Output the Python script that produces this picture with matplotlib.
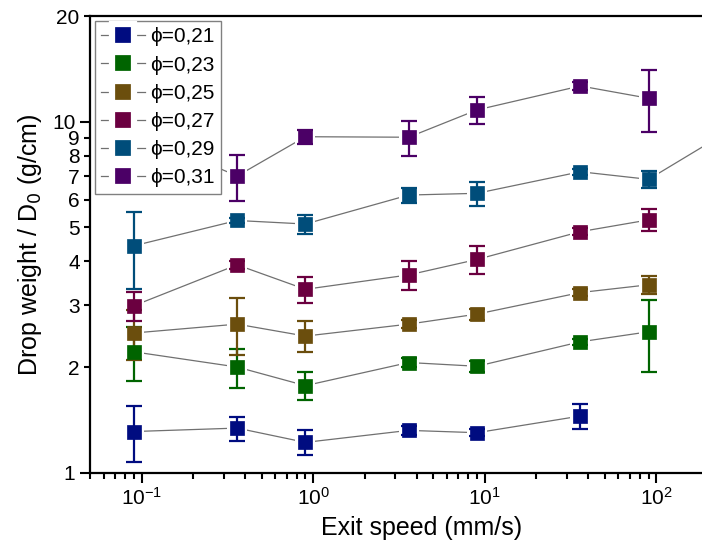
import numpy as np
import matplotlib
matplotlib.use("Agg")
import matplotlib.pyplot as plt
from matplotlib.lines import Line2D
from matplotlib.ticker import FixedLocator, FixedFormatter

plt.rcParams['font.family'] = ['Liberation Sans', 'DejaVu Sans']

# exit speed (mm/s)
speed = [0.09, 0.36, 0.9, 3.6, 9, 36, 90, 360]

labels = ["ϕ=0,21", "ϕ=0,23", "ϕ=0,25", "ϕ=0,27", "ϕ=0,29", "ϕ=0,31"]
colors = ["#000c80", "#006400", "#6b4e0d", "#6b0040", "#004d7a", "#4b0066"]

nan = np.nan
w021 = [1.31, 1.34, 1.22, 1.32, 1.30, 1.45, nan, nan]
e021 = [0.24, 0.105, 0.10, 0.04, 0.03, 0.117, nan, nan]
w023 = [2.21, 2.00, 1.77, 2.06, 2.01, 2.36, 2.52, nan]
e023 = [0.39, 0.255, 0.16, 0.06, 0.07, 0.05, 0.58, nan]
w025 = [2.50, 2.65, 2.45, 2.65, 2.83, 3.26, 3.43, nan]
e025 = [0.41, 0.49, 0.25, 0.07, 0.10, 0.08, 0.20, nan]
w027 = [2.99, 3.91, 3.33, 3.66, 4.05, 4.86, 5.25, nan]
e027 = [0.29, 0.10, 0.29, 0.34, 0.37, 0.12, 0.38, nan]
w029 = [4.43, 5.23, 5.11, 6.18, 6.25, 7.20, 6.85, 10.3]
e029 = [1.10, 0.10, 0.32, 0.30, 0.50, 0.15, 0.37, 0.50]
w031 = [9.38, 7.00, 9.06, 9.03, 10.8, 12.64, 11.66, nan]
e031 = [0.40, 1.06, 0.43, 1.04, 0.98, 0.30, 2.33, nan]

weights = [w021, w023, w025, w027, w029, w031]
errors = [e021, e023, e025, e027, e029, e031]

fig = plt.figure(figsize=(7.02, 5.5), dpi=100)
# the axes run past the right edge of the picture, as in the cropped original
ax = fig.add_axes([90 / 702, 77.3 / 550, 738 / 702, 456.7 / 550])

for y, e, c in zip(weights, errors, colors):
    # connecting line with a white halo round each marker
    ax.plot(speed, y, '-', color='#707070', lw=0.9, marker='s', ms=15,
            mfc='white', mec='white', mew=0, zorder=2)
    ax.errorbar(speed, y, yerr=e, fmt='none', ecolor=c, elinewidth=1.6,
                capsize=5.5, capthick=1.6, zorder=3)
    ax.plot(speed, y, 's', color=c, ms=10, mec=c, mew=0.5, zorder=4)

ax.set_xscale('log')
ax.set_yscale('log')
ax.set_xlim(0.05, 1000)
ax.set_ylim(1, 20)

ax.xaxis.set_major_locator(FixedLocator([0.1, 1, 10, 100]))
ax.yaxis.set_major_locator(FixedLocator([1, 10]))
ax.yaxis.set_major_formatter(FixedFormatter(["1", "10"]))
ax.yaxis.set_minor_locator(FixedLocator([2, 3, 4, 5, 6, 7, 8, 9, 20]))
ax.yaxis.set_minor_formatter(FixedFormatter(["2", "3", "4", "5", "6", "7", "8", "9", "20"]))

ax.tick_params(which='both', direction='out', width=1.5, labelsize=15,
               top=False, right=False)
ax.tick_params(which='major', length=7)
ax.tick_params(which='minor', length=4)
for s in ax.spines.values():
    s.set_linewidth(1.6)

ax.set_xlabel("Exit speed (mm/s)", fontsize=18)
ax.xaxis.set_label_coords((422 - 90) / 738, -0.095)
ax.set_ylabel("Drop weight / D$_0$ (g/cm)", fontsize=18, labelpad=6)

handles = [Line2D([], [], color='#707070', lw=0.9, marker='s', ms=16,
                  mfc=c, mec='white', mew=4.5) for c in colors]
leg = ax.legend(handles, labels, loc='upper left', fontsize=15, frameon=True,
                fancybox=False, edgecolor='#808080', framealpha=1,
                borderaxespad=0.25, labelspacing=0.44, handlelength=2.1,
                handletextpad=0.25, borderpad=0.3)
leg.get_frame().set_linewidth(1.0)
leg.set_zorder(10)

fig.savefig("out.png", dpi=100)
